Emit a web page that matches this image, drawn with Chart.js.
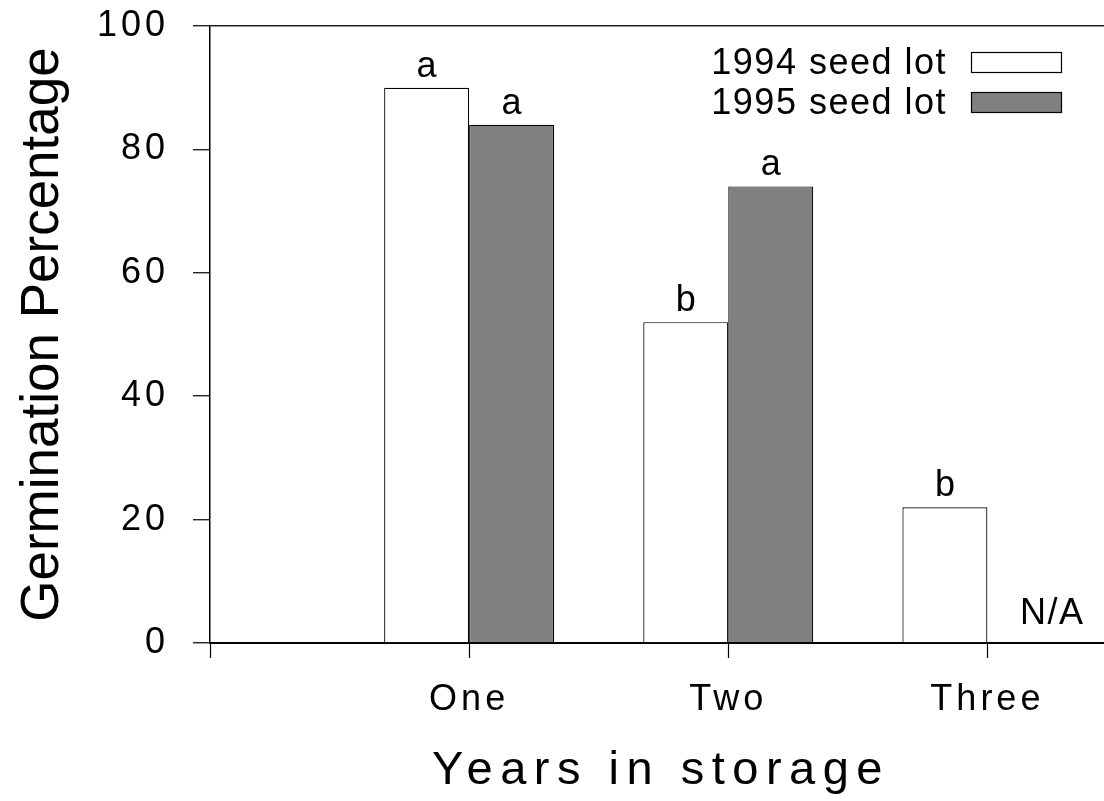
<!DOCTYPE html>
<html>
<head>
<meta charset="utf-8">
<script src="https://cdn.jsdelivr.net/npm/chart.js@4/dist/chart.umd.min.js"></script>
<style>
  body { margin: 0; background: #fff; }
  canvas { display: block; }
</style>
</head>
<body>
<canvas id="myChart" width="1104" height="801"></canvas>
<script>
// data
var yearPositions = [1, 2, 3];
var xTickValues = [0, 1, 2, 3];
var xTickLabels = ['', 'One', 'Two', 'Three'];
var yTickValues = [0, 20, 40, 60, 80, 100];
var germ1994 = [90, 52, 22];
var germ1995 = [84, 74, null];
var letters1994 = ['a', 'b', 'b'];
var letters1995 = ['a', 'a', ''];
var seriesNames = ['1994 seed lot', '1995 seed lot'];
var naLabel = { x: 3.25, y: 3, text: 'N/A' };

var FONT = '"Liberation Sans", Arial, sans-serif';

function toPoints(vals) {
  return yearPositions.map(function(x, i) { return { x: x, y: vals[i] }; });
}

// tick labels in the figure are a bit spaced out
var spacingPlugin = {
  id: 'spacing',
  beforeDraw: function(chart) { chart.ctx.letterSpacing = '4px'; },
  afterDraw: function(chart) { chart.ctx.letterSpacing = '0px'; }
};

var annotatePlugin = {
  id: 'annotate',
  afterDraw: function(chart) {
    var ctx = chart.ctx;
    var xs = chart.scales.x, ys = chart.scales.y;
    var area = chart.chartArea;
    ctx.save();
    ctx.fillStyle = '#000';

    // significance letters above bars
    ctx.font = '36px ' + FONT;
    ctx.letterSpacing = '0px';
    ctx.textAlign = 'center';
    ctx.textBaseline = 'alphabetic';
    [letters1994, letters1995].forEach(function(letters, d) {
      chart.getDatasetMeta(d).data.forEach(function(bar, i) {
        if (!letters[i] || bar.y == null || isNaN(bar.y)) return;
        ctx.fillText(letters[i], bar.x, bar.y - 11);
      });
    });

    // N/A
    ctx.letterSpacing = '1.5px';
    ctx.fillText(naLabel.text, xs.getPixelForValue(naLabel.x), ys.getPixelForValue(naLabel.y));

    // legend: text then box
    var ds = chart.data.datasets;
    ctx.font = '36px ' + FONT;
    ctx.letterSpacing = '1.5px';
    ctx.textAlign = 'right';
    ds.forEach(function(d, i) {
      var rowY = 74 + i * 40;
      ctx.fillStyle = '#000';
      ctx.fillText(d.label, 947, rowY);
      ctx.fillStyle = d.backgroundColor;
      ctx.fillRect(971.5, rowY - 21.5, 90, 20);
      ctx.strokeStyle = '#000';
      ctx.lineWidth = 1.2;
      ctx.strokeRect(971.5, rowY - 21.5, 90, 20);
    });

    // axis titles
    ctx.fillStyle = '#000';
    ctx.font = '47px ' + FONT;
    ctx.letterSpacing = '7.5px';
    ctx.textAlign = 'center';
    ctx.fillText('Years in storage', (area.left + area.right) / 2 + 4, 784);

    ctx.translate(58, (area.top + area.bottom) / 2);
    ctx.rotate(-Math.PI / 2);
    ctx.font = '53px ' + FONT;
    ctx.letterSpacing = '0px';
    ctx.fillText('Germination Percentage', 0, 0);
    ctx.restore();
  }
};

var ctx = document.getElementById('myChart').getContext('2d');
new Chart(ctx, {
  type: 'bar',
  data: {
    datasets: [{
      label: seriesNames[0],
      data: toPoints(germ1994),
      backgroundColor: '#ffffff',
      borderColor: '#000000',
      borderWidth: 1.2
    }, {
      label: seriesNames[1],
      data: toPoints(germ1995),
      backgroundColor: '#808080',
      borderColor: '#000000',
      borderWidth: 1.2
    }]
  },
  options: {
    responsive: false,
    animation: false,
    events: [],
    categoryPercentage: 0.656,
    barPercentage: 1,
    layout: { padding: { top: 26, right: 0, left: 0, bottom: 0 } },
    plugins: {
      legend: { display: false },
      tooltip: { enabled: false }
    },
    scales: {
      x: {
        type: 'linear',
        min: 0,
        max: 3.45,
        offset: false,
        grid: {
          offset: false,
          drawOnChartArea: false,
          tickLength: 15,
          tickColor: '#000',
          tickWidth: 1.2
        },
        border: { color: '#000', width: 2 },
        afterBuildTicks: function(scale) {
          scale.ticks = xTickValues.map(function(v) { return { value: v }; });
        },
        afterFit: function(scale) {
          scale.height = 158;
          scale.paddingLeft = 0;
          scale.paddingRight = 0;
        },
        ticks: {
          autoSkip: false,
          maxRotation: 0,
          padding: 20,
          color: '#000',
          font: { family: FONT, size: 36 },
          callback: function(value, index) { return xTickLabels[index]; }
        }
      },
      y: {
        min: 0,
        max: 100,
        grid: {
          drawOnChartArea: true,
          tickLength: 17,
          tickColor: '#000',
          tickWidth: 1.2,
          lineWidth: 1.5,
          color: function(c) { return c.tick && c.tick.value === 100 ? '#222' : 'rgba(0,0,0,0)'; }
        },
        border: { color: '#000', width: 1.5 },
        afterBuildTicks: function(scale) {
          scale.ticks = yTickValues.map(function(v) { return { value: v }; });
        },
        afterFit: function(scale) {
          scale.width = 210;
          scale.paddingTop = 0;
          scale.paddingBottom = 0;
        },
        ticks: {
          padding: 24,
          color: '#000',
          font: { family: FONT, size: 36 }
        }
      }
    }
  },
  plugins: [spacingPlugin, annotatePlugin]
});
</script>
</body>
</html>
